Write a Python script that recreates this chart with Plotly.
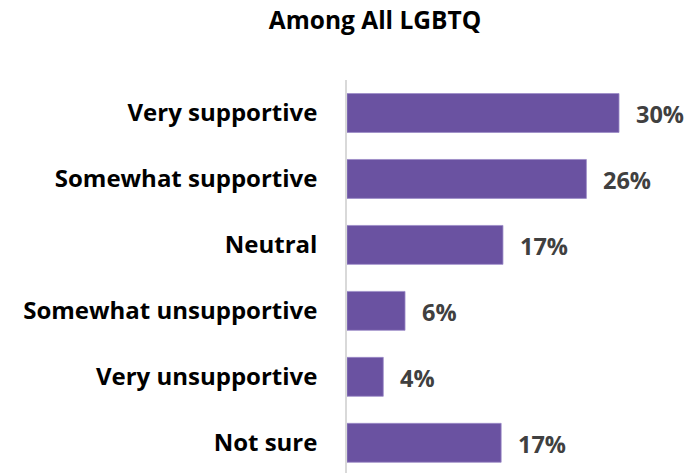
import plotly.graph_objects as go

categories = ["Very supportive", "Somewhat supportive", "Neutral",
              "Somewhat unsupportive", "Very unsupportive", "Not sure"]
values = [30.0, 26.4, 17.2, 6.4, 4.0, 17.0]
value_labels = ["30%", "26%", "17%", "6%", "4%", "17%"]
title_text = "Among All LGBTQ"

FONT = "Open Sans"
BAR_COLOR = "#6A52A1"

fig = go.Figure()
fig.add_trace(go.Bar(
    x=values, y=categories, orientation="h",
    marker=dict(color=BAR_COLOR, line=dict(color="#9C8CC8", width=0.8)),
    width=0.59, hoverinfo="skip",
))

for cat, v, lab in zip(categories, values, value_labels):
    fig.add_annotation(x=v, y=cat, text=lab, showarrow=False,
                       xanchor="left", yanchor="middle", xshift=15, yshift=-1,
                       font=dict(family=FONT, size=23.5, color="#404040", weight="bold"))

fig.update_layout(
    width=699, height=473,
    margin=dict(l=347, r=0, t=80, b=0),
    paper_bgcolor="white", plot_bgcolor="white",
    showlegend=False,
    title=dict(text=title_text, x=375/699, xanchor="center",
               y=1 - 20/473, yanchor="middle", yref="container",
               font=dict(family=FONT, size=24.5, color="#000000", weight="bold")),
)
fig.update_xaxes(range=[0, 38.82], showticklabels=False, showgrid=False,
                 zeroline=False, showline=False, fixedrange=True)
fig.update_yaxes(type="category", categoryorder="array", categoryarray=categories,
                 range=[5.458, -0.5], showgrid=False, zeroline=False,
                 showline=True, linecolor="#D9D9D9", linewidth=1.5,
                 ticks="", ticklabelstandoff=23,
                 tickfont=dict(family=FONT, size=24, color="#000000", weight="bold"))

fig.write_html("out.html", config={"displayModeBar": False},
               post_script="document.body.style.margin='0';")
